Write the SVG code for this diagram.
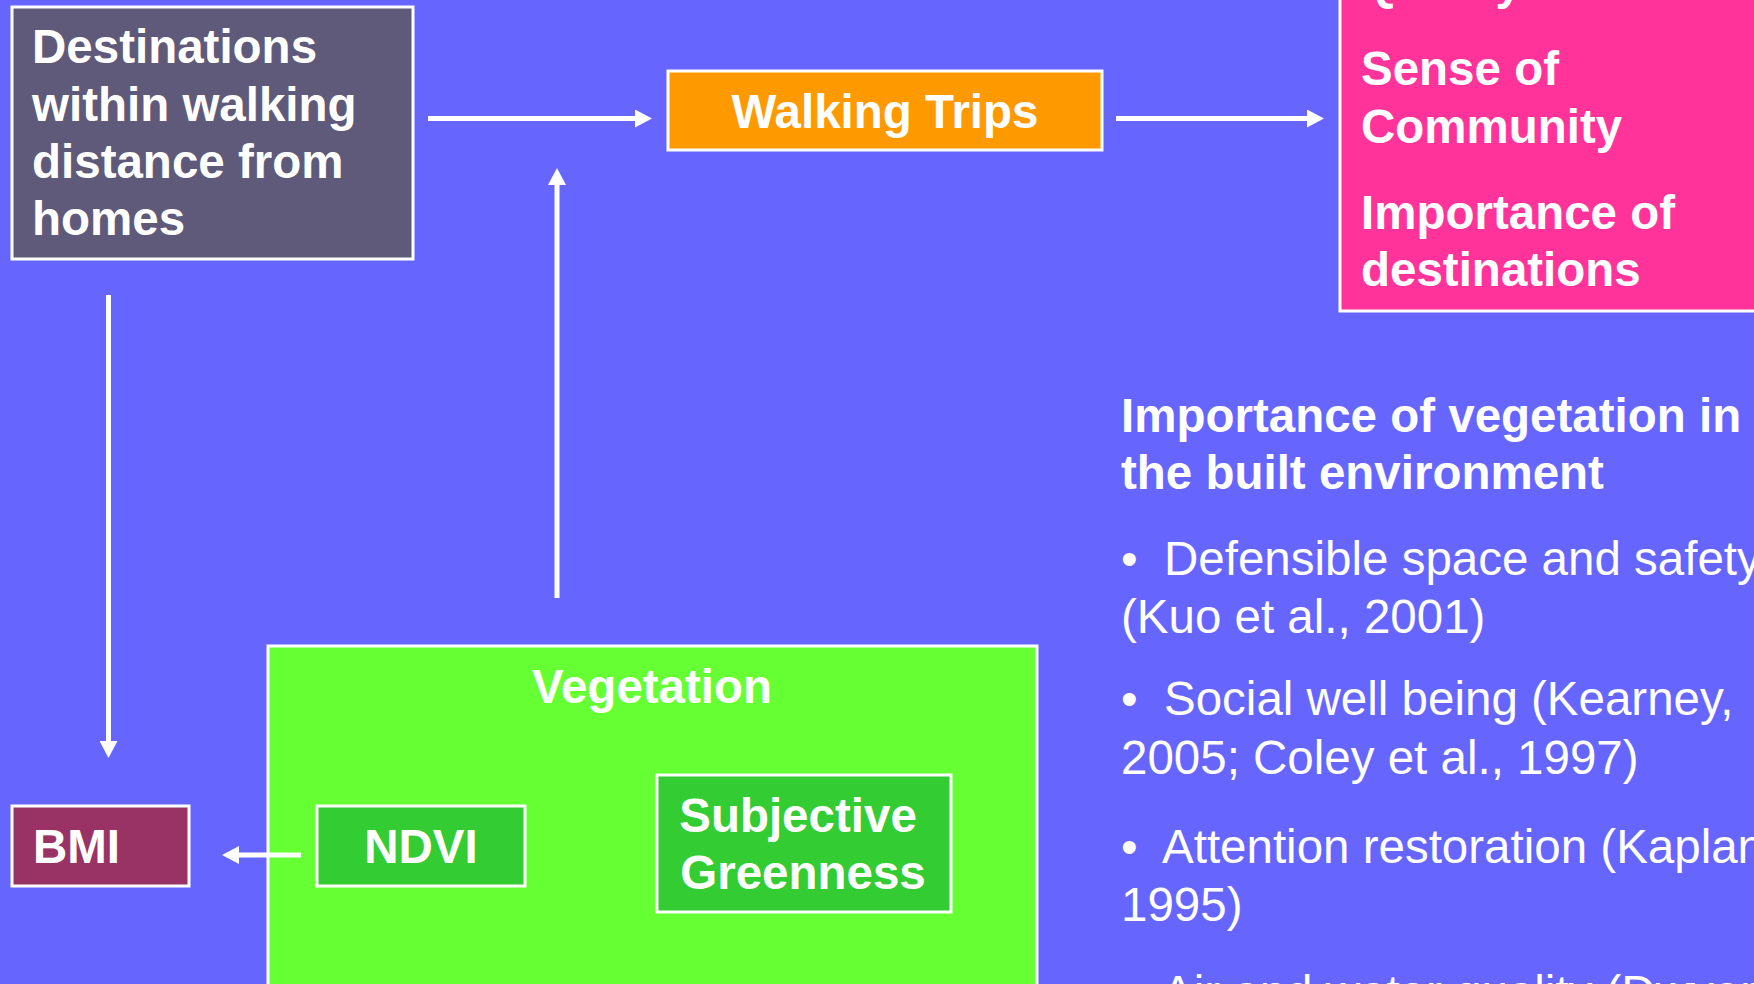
<svg xmlns="http://www.w3.org/2000/svg" width="1754" height="984" viewBox="0 0 1754 984">
<defs>
<style>
.box{stroke:#FFFFFF;stroke-width:3}
.t{font-family:"Liberation Sans",Arial,sans-serif;font-size:47.5px;fill:#FFFFFF}
.b{font-weight:bold}
.c{text-anchor:middle}
.conn{stroke:#FFFFFF;stroke-width:5;fill:none}
</style>
<marker id="ah" markerUnits="userSpaceOnUse" markerWidth="18" markerHeight="18" refX="0" refY="9" orient="auto" viewBox="0 0 18 18">
<path d="M0,0 L17,9 L0,18 Z" fill="#FFFFFF"/>
</marker>
</defs>
<rect width="1754" height="984" fill="#6666FF"/>

<g id="destinations">
<rect class="box" x="12" y="7" width="401" height="252" fill="#5F5A7A"/>
<text class="t b" x="32" y="63">Destinations</text>
<text class="t b" x="32" y="121">within walking</text>
<text class="t b" x="32" y="178">distance from</text>
<text class="t b" x="32" y="235">homes</text>
</g>

<g id="walking-trips">
<rect class="box" x="668" y="71" width="434" height="79" fill="#FF9900"/>
<text class="t b c" x="885" y="128">Walking Trips</text>
</g>

<g id="outcomes">
<rect class="box" x="1340" y="-5" width="420" height="316" fill="#FF3399"/>
<text class="t b" x="1361" y="-1">Quality</text>
<text class="t b" x="1361" y="85">Sense of</text>
<text class="t b" x="1361" y="143">Community</text>
<text class="t b" x="1361" y="229">Importance of</text>
<text class="t b" x="1361" y="286">destinations</text>
</g>

<g id="vegetation">
<rect class="box" x="268" y="646" width="769" height="345" fill="#66FF33"/>
<text class="t b c" x="652" y="703">Vegetation</text>
</g>

<g id="ndvi">
<rect class="box" x="317" y="806" width="208" height="80" fill="#33CC33"/>
<text class="t b c" x="421" y="863">NDVI</text>
</g>

<g id="subjective-greenness">
<rect class="box" x="657" y="775" width="294" height="137" fill="#33CC33"/>
<text class="t b c" x="798" y="832">Subjective</text>
<text class="t b c" x="803" y="889">Greenness</text>
</g>

<g id="bmi">
<rect class="box" x="12" y="806" width="177" height="80" fill="#993366"/>
<text class="t b" x="33" y="863">BMI</text>
</g>

<g id="vegetation-importance">
<text class="t b" x="1121" y="432">Importance of vegetation in</text>
<text class="t b" x="1121" y="489">the built environment</text>
<text class="t" y="575"><tspan x="1121">•</tspan><tspan x="1164">Defensible space and safety</tspan></text>
<text class="t" x="1121" y="633">(Kuo et al., 2001)</text>
<text class="t" y="715"><tspan x="1121">•</tspan><tspan x="1164">Social well being (Kearney,</tspan></text>
<text class="t" x="1121" y="774">2005; Coley et al., 1997)</text>
<text class="t" y="863"><tspan x="1121">•</tspan><tspan x="1162">Attention restoration (Kaplan,</tspan></text>
<text class="t" x="1121" y="921">1995)</text>
<text class="t" y="1009"><tspan x="1121">•</tspan><tspan x="1162">Air and water quality (Dwyer</tspan></text>
</g>

<g id="connectors">
<line class="conn" x1="428" y1="118.5" x2="635" y2="118.5" marker-end="url(#ah)"/>
<line class="conn" x1="1116" y1="118.5" x2="1307" y2="118.5" marker-end="url(#ah)"/>
<line class="conn" x1="557" y1="598" x2="557" y2="185" marker-end="url(#ah)"/>
<line class="conn" x1="108.5" y1="295" x2="108.5" y2="741" marker-end="url(#ah)"/>
<line class="conn" x1="301" y1="855" x2="239" y2="855" marker-end="url(#ah)"/>
</g>
</svg>
